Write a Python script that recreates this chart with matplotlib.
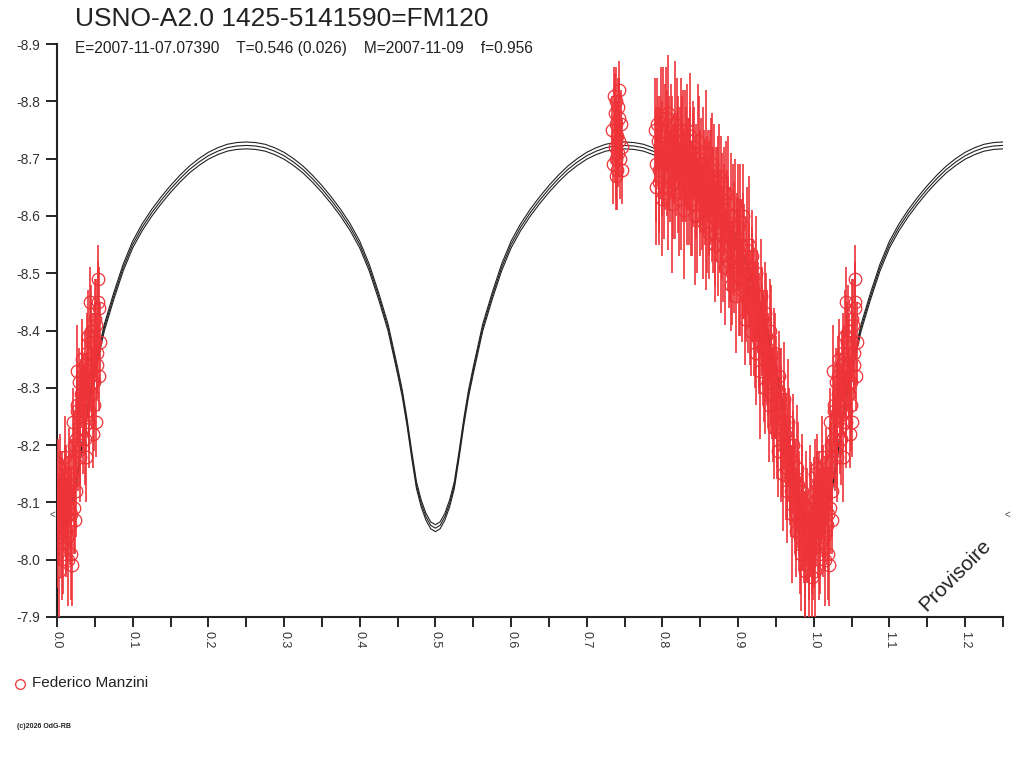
import matplotlib
matplotlib.use("Agg")
import matplotlib.pyplot as plt
import numpy as np

plt.rcParams['font.family'] = ['Liberation Sans', 'DejaVu Sans']

title = "USNO-A2.0 1425-5141590=FM120"
subtitle = "E=2007-11-07.07390    T=0.546 (0.026)    M=2007-11-09    f=0.956"
observer = "Federico Manzini"
footer = "(c)2026 OdG-RB"
watermark = "Provisoire"

xticks = [0.0, 0.1, 0.2, 0.3, 0.4, 0.5, 0.6, 0.7, 0.8, 0.9, 1.0, 1.1, 1.2]
yticks = [-8.9, -8.8, -8.7, -8.6, -8.5, -8.4, -8.3, -8.2, -8.1, -8.0, -7.9]

# model light curve over one period (phase, magnitude); repeated at phase + 1
model_phase = [0.00000, 0.00625, 0.01250, 0.01875, 0.02500, 0.03125, 0.03750, 0.04375, 0.05000,
               0.0625, 0.0750, 0.0875, 0.1000, 0.1125,
               0.1250, 0.1375, 0.1500, 0.1625, 0.1750, 0.1875, 0.2000, 0.2125, 0.2250, 0.2375,
               0.2500, 0.2625, 0.2750, 0.2875, 0.3000, 0.3125, 0.3250, 0.3375, 0.3500, 0.3625,
               0.3750, 0.3875, 0.4000, 0.4125, 0.4250, 0.4375,
               0.45000, 0.45625, 0.46250, 0.46875, 0.47500, 0.48125, 0.48750, 0.49375,
               0.50000, 0.50625, 0.51250, 0.51875, 0.52500, 0.53125, 0.53750, 0.54375, 0.55000,
               0.5625, 0.5750, 0.5875, 0.6000, 0.6125,
               0.6250, 0.6375, 0.6500, 0.6625, 0.6750, 0.6875, 0.7000, 0.7125, 0.7250, 0.7375,
               0.7500, 0.7625, 0.7750, 0.7875, 0.8000, 0.8125, 0.8250, 0.8375, 0.8500, 0.8625,
               0.8750, 0.8875, 0.9000, 0.9125, 0.9250, 0.9375,
               0.95000, 0.95625, 0.96250, 0.96875, 0.97500, 0.98125, 0.98750, 0.99375,
               1.00000]
model_mag = [-8.055, -8.060, -8.075, -8.098, -8.130, -8.183, -8.240, -8.290, -8.330,
             -8.405, -8.460, -8.510, -8.550, -8.580,
             -8.605, -8.627, -8.647, -8.665, -8.681, -8.694, -8.705, -8.713, -8.719, -8.722,
             -8.723, -8.722, -8.719, -8.713, -8.705, -8.694, -8.681, -8.665, -8.647, -8.627,
             -8.605, -8.580, -8.550, -8.510, -8.460, -8.405,
             -8.330, -8.290, -8.240, -8.183, -8.130, -8.098, -8.075, -8.060,
             -8.055, -8.060, -8.075, -8.098, -8.130, -8.183, -8.240, -8.290, -8.330,
             -8.405, -8.460, -8.510, -8.550, -8.580,
             -8.605, -8.627, -8.647, -8.665, -8.681, -8.694, -8.705, -8.713, -8.719, -8.722,
             -8.723, -8.722, -8.719, -8.713, -8.705, -8.694, -8.681, -8.665, -8.647, -8.627,
             -8.605, -8.580, -8.550, -8.510, -8.460, -8.405,
             -8.330, -8.290, -8.240, -8.183, -8.130, -8.098, -8.075, -8.060,
             -8.055]
model_offsets = [-0.006, 0.0, 0.006]

# observations, phase 0.00-0.06 (also shown at phase + 1)
a_phase = [0.000, 0.001, 0.002, 0.003, 0.004, 0.005, 0.006, 0.007, 0.008, 0.009,
           0.010, 0.011, 0.012, 0.013, 0.014, 0.015, 0.016, 0.017, 0.018, 0.019,
           0.020, 0.021, 0.022, 0.023, 0.024, 0.025, 0.026, 0.027, 0.028, 0.029,
           0.030, 0.031, 0.032, 0.033, 0.034, 0.035, 0.036, 0.037, 0.038, 0.039,
           0.040, 0.041, 0.042, 0.043, 0.044, 0.045, 0.046, 0.047, 0.048, 0.049,
           0.050, 0.051, 0.052, 0.053, 0.054, 0.055, 0.056, 0.057,
           0.0005, 0.0025, 0.0045, 0.0065, 0.0085, 0.0105, 0.0125, 0.0145, 0.0165, 0.0185,
           0.0205, 0.0225, 0.0245, 0.0265, 0.0285, 0.0305, 0.0325, 0.0345, 0.0365, 0.0385,
           0.0405, 0.0425, 0.0445, 0.0465, 0.0485, 0.0505, 0.0525, 0.0545]
a_mag = [-8.02, -8.15, -7.98, -8.08, -8.16, -8.05, -8.11, -8.13, -8.03, -8.10,
         -8.07, -8.18, -8.12, -8.04, -8.09, -8.00, -8.13, -8.06, -8.15, -8.01,
         -7.99, -8.24, -8.09, -8.17, -8.07, -8.21, -8.33, -8.26, -8.19, -8.31,
         -8.25, -8.20, -8.29, -8.35, -8.23, -8.30, -8.27, -8.34, -8.18, -8.36,
         -8.30, -8.39, -8.26, -8.45, -8.33, -8.40, -8.29, -8.36, -8.22, -8.31,
         -8.38, -8.24, -8.41, -8.36, -8.49, -8.44, -8.32, -8.38,
         -8.10, -8.06, -8.13, -8.01, -8.09, -8.14, -8.05, -8.11, -8.17, -8.08,
         -8.14, -8.20, -8.12, -8.27, -8.23, -8.18, -8.32, -8.26, -8.21, -8.29,
         -8.35, -8.24, -8.38, -8.31, -8.27, -8.42, -8.34, -8.45]
a_err = [0.07, 0.06, 0.08, 0.07, 0.06, 0.08, 0.07, 0.06, 0.09, 0.07,
         0.06, 0.07, 0.08, 0.06, 0.07, 0.08, 0.06, 0.07, 0.06, 0.08,
         0.07, 0.06, 0.08, 0.07, 0.06, 0.07, 0.08, 0.06, 0.07, 0.06,
         0.08, 0.07, 0.06, 0.07, 0.08, 0.06, 0.07, 0.06, 0.08, 0.07,
         0.06, 0.08, 0.07, 0.06, 0.07, 0.08, 0.06, 0.07, 0.06, 0.08,
         0.07, 0.06, 0.08, 0.07, 0.06, 0.07, 0.06, 0.07,
         0.08, 0.07, 0.06, 0.08, 0.07, 0.06, 0.08, 0.07, 0.06, 0.08,
         0.07, 0.06, 0.08, 0.07, 0.06, 0.08, 0.07, 0.06, 0.08, 0.07,
         0.06, 0.08, 0.07, 0.06, 0.08, 0.07, 0.06, 0.07]

# observations around phase 0.74
b_phase = [0.734, 0.735, 0.736, 0.737, 0.737, 0.738, 0.738, 0.739, 0.739, 0.740,
           0.740, 0.741, 0.741, 0.742, 0.742, 0.743, 0.744, 0.745, 0.746, 0.747]
b_mag = [-8.75, -8.69, -8.81, -8.72, -8.78, -8.67, -8.76, -8.70, -8.80, -8.74,
         -8.68, -8.79, -8.71, -8.77, -8.82, -8.73, -8.70, -8.76, -8.68, -8.72]
b_err = [0.06, 0.07, 0.05, 0.06, 0.07, 0.06, 0.05, 0.07, 0.06, 0.06,
         0.07, 0.05, 0.06, 0.07, 0.05, 0.06, 0.07, 0.06, 0.06, 0.05]

# observations, phase 0.79-1.00
c_phase = [0.790, 0.792, 0.794, 0.796, 0.798, 0.800, 0.802, 0.804, 0.806, 0.808,
           0.810, 0.812, 0.814, 0.816, 0.818, 0.820, 0.822, 0.824, 0.826, 0.828,
           0.830, 0.832, 0.834, 0.836, 0.838, 0.840, 0.842, 0.844, 0.846, 0.848,
           0.850, 0.852, 0.854, 0.856, 0.858, 0.860, 0.862, 0.864, 0.866, 0.868,
           0.870, 0.872, 0.874, 0.876, 0.878, 0.880, 0.882, 0.884, 0.886, 0.888,
           0.890, 0.892, 0.894, 0.896, 0.898, 0.900, 0.902, 0.904, 0.906, 0.908,
           0.910, 0.912, 0.914, 0.916, 0.918, 0.920, 0.922, 0.924, 0.926, 0.928,
           0.930, 0.932, 0.934, 0.936, 0.938, 0.940, 0.942, 0.944, 0.946, 0.948,
           0.950, 0.952, 0.954, 0.956, 0.958, 0.960, 0.962, 0.964, 0.966, 0.968,
           0.970, 0.972, 0.974, 0.976, 0.978, 0.980, 0.982, 0.984, 0.986, 0.988,
           0.990, 0.992, 0.994, 0.996, 0.998, 1.000,
           0.791, 0.793, 0.795, 0.797, 0.799, 0.801, 0.803, 0.805, 0.807, 0.809,
           0.811, 0.813, 0.815, 0.817, 0.819, 0.821, 0.823, 0.825, 0.827, 0.829,
           0.831, 0.833, 0.835, 0.837, 0.839, 0.841, 0.843, 0.845, 0.847, 0.849,
           0.851, 0.853, 0.855, 0.857, 0.859, 0.861, 0.863, 0.865, 0.867, 0.869,
           0.871, 0.873, 0.875, 0.877, 0.879, 0.881, 0.883, 0.885, 0.887, 0.889,
           0.891, 0.893, 0.895, 0.897, 0.899, 0.901, 0.903, 0.905, 0.907, 0.909,
           0.911, 0.913, 0.915, 0.917, 0.919, 0.921, 0.923, 0.925, 0.927, 0.929,
           0.931, 0.933, 0.935, 0.937, 0.939, 0.941, 0.943, 0.945, 0.947, 0.949,
           0.951, 0.953, 0.955, 0.957, 0.959, 0.961, 0.963, 0.965, 0.967, 0.969,
           0.971, 0.973, 0.975, 0.977, 0.979, 0.981, 0.983, 0.985, 0.987, 0.989,
           0.991, 0.993, 0.995, 0.997, 0.999]
c_mag = [-8.75, -8.65, -8.73, -8.68, -8.77, -8.70, -8.64, -8.74, -8.71, -8.78,
         -8.67, -8.72, -8.66, -8.76, -8.69, -8.73, -8.63, -8.75, -8.70, -8.67,
         -8.72, -8.64, -8.69, -8.74, -8.62, -8.68, -8.71, -8.65, -8.60, -8.70,
         -8.66, -8.62, -8.69, -8.64, -8.58, -8.67, -8.63, -8.68, -8.60, -8.65,
         -8.57, -8.62, -8.66, -8.59, -8.63, -8.55, -8.61, -8.64, -8.57, -8.52,
         -8.60, -8.50, -8.56, -8.62, -8.54, -8.58, -8.49, -8.55, -8.60, -8.52,
         -8.46, -8.54, -8.50, -8.44, -8.53, -8.47, -8.41, -8.50, -8.44, -8.38,
         -8.46, -8.40, -8.35, -8.43, -8.37, -8.31, -8.40, -8.33, -8.27, -8.36,
         -8.30, -8.24, -8.32, -8.26, -8.20, -8.28, -8.22, -8.16, -8.24, -8.18,
         -8.12, -8.20, -8.14, -8.08, -8.16, -8.10, -8.04, -8.12, -8.07, -8.01,
         -8.09, -8.04, -7.99, -8.07, -8.02, -8.05,
         -8.69, -8.76, -8.66, -8.72, -8.63, -8.74, -8.69, -8.77, -8.65, -8.71,
         -8.74, -8.62, -8.70, -8.66, -8.75, -8.68, -8.71, -8.64, -8.73, -8.61,
         -8.69, -8.75, -8.66, -8.70, -8.63, -8.72, -8.60, -8.67, -8.73, -8.64,
         -8.69, -8.59, -8.66, -8.71, -8.62, -8.57, -8.65, -8.69, -8.61, -8.55,
         -8.64, -8.58, -8.67, -8.53, -8.60, -8.64, -8.51, -8.59, -8.62, -8.55,
         -8.48, -8.58, -8.52, -8.46, -8.56, -8.51, -8.59, -8.47, -8.53, -8.42,
         -8.50, -8.45, -8.55, -8.40, -8.48, -8.43, -8.36, -8.46, -8.40, -8.33,
         -8.42, -8.37, -8.30, -8.39, -8.34, -8.27, -8.36, -8.29, -8.23, -8.32,
         -8.26, -8.19, -8.28, -8.22, -8.15, -8.24, -8.18, -8.12, -8.20, -8.14,
         -8.08, -8.17, -8.11, -8.05, -8.13, -8.07, -8.01, -8.10, -8.04, -7.98,
         -8.06, -8.01, -8.09, -7.97, -8.03]
c_err = [0.09, 0.10, 0.08, 0.11, 0.09, 0.10, 0.08, 0.09, 0.11, 0.10,
         0.08, 0.09, 0.10, 0.11, 0.09, 0.08, 0.10, 0.09, 0.11, 0.08,
         0.10, 0.09, 0.08, 0.11, 0.09, 0.10, 0.08, 0.09, 0.10, 0.11,
         0.09, 0.08, 0.10, 0.09, 0.11, 0.08, 0.10, 0.09, 0.08, 0.11,
         0.09, 0.10, 0.08, 0.09, 0.11, 0.10, 0.08, 0.09, 0.10, 0.08,
         0.11, 0.09, 0.10, 0.08, 0.09, 0.11, 0.10, 0.08, 0.09, 0.10,
         0.08, 0.11, 0.09, 0.10, 0.08, 0.09, 0.11, 0.10, 0.08, 0.09,
         0.10, 0.08, 0.11, 0.09, 0.10, 0.08, 0.09, 0.11, 0.10, 0.08,
         0.09, 0.10, 0.08, 0.11, 0.09, 0.10, 0.08, 0.09, 0.11, 0.10,
         0.08, 0.09, 0.10, 0.08, 0.11, 0.09, 0.10, 0.08, 0.09, 0.11,
         0.10, 0.08, 0.09, 0.10, 0.08, 0.09,
         0.10, 0.08, 0.11, 0.09, 0.10, 0.12, 0.08, 0.09, 0.11, 0.10,
         0.09, 0.12, 0.08, 0.10, 0.09, 0.11, 0.08, 0.10, 0.09, 0.12,
         0.10, 0.08, 0.11, 0.09, 0.10, 0.08, 0.12, 0.09, 0.10, 0.11,
         0.08, 0.10, 0.09, 0.11, 0.12, 0.08, 0.10, 0.09, 0.11, 0.10,
         0.08, 0.12, 0.09, 0.10, 0.11, 0.08, 0.10, 0.09, 0.12, 0.10,
         0.08, 0.11, 0.09, 0.10, 0.08, 0.12, 0.10, 0.09, 0.11, 0.08,
         0.10, 0.09, 0.12, 0.08, 0.10, 0.11, 0.09, 0.08, 0.10, 0.12,
         0.09, 0.10, 0.08, 0.11, 0.09, 0.10, 0.12, 0.08, 0.09, 0.11,
         0.10, 0.08, 0.09, 0.12, 0.10, 0.08, 0.11, 0.09, 0.10, 0.08,
         0.12, 0.09, 0.10, 0.08, 0.11, 0.09, 0.10, 0.12, 0.08, 0.09,
         0.10, 0.08, 0.11, 0.09, 0.10]

red = '#EE3338'
dark = '#222222'

fig = plt.figure(figsize=(10.24, 7.68), dpi=100)
ax = fig.add_axes([57/1024, 1 - 617/768, (1003 - 57)/1024, (617 - 44)/768])

mp = np.array(model_phase)
mm = np.array(model_mag)
for cycle in [0.0, 1.0]:
    for off in model_offsets:
        ax.plot(mp + cycle, mm + off, color=dark, lw=0.8, zorder=2)

obs_phase = np.concatenate([a_phase, b_phase, c_phase, np.array(a_phase) + 1.0])
obs_mag = np.concatenate([a_mag, b_mag, c_mag, a_mag])
obs_err = np.concatenate([a_err, b_err, c_err, a_err])

ax.errorbar(obs_phase, obs_mag, yerr=obs_err, fmt='none', ecolor=red,
            elinewidth=1.2, capsize=0, zorder=3)
ax.plot(obs_phase, obs_mag, linestyle='none', marker='o', markersize=9,
        markerfacecolor='none', markeredgecolor=red, markeredgewidth=0.9, zorder=4)

ax.set_xlim(0.0, 1.248)
ax.set_ylim(-7.9, -8.9)
ax.set_xticks(xticks)
ax.set_xticklabels([f"{t:.1f}" for t in xticks], rotation=270, fontsize=9, color='#333333')
ax.set_xticks([0.05, 0.15, 0.25, 0.35, 0.45, 0.55, 0.65, 0.75, 0.85, 0.95, 1.05, 1.15, 1.25], minor=True)
ax.set_yticks(yticks)
ax.set_yticklabels([f"{t:.1f}" for t in yticks], fontsize=10, color='#333333')
ax.tick_params(axis='y', direction='out', length=8, width=1.2, pad=4)
ax.tick_params(axis='x', which='both', direction='out', length=7, width=1.2, pad=3)
for s in ['top', 'right']:
    ax.spines[s].set_visible(False)
for s in ['left', 'bottom']:
    ax.spines[s].set_linewidth(1.5)
    ax.spines[s].set_color('#222222')

fig.text(75/1024, 1 - 19/768, title, fontsize=19, va='center', ha='left', color='#222222')
fig.text(75/1024, 1 - 48/768, subtitle, fontsize=11.2, va='center', ha='left', color='#222222')

fig.text(955/1024, 1 - 575/768, watermark, fontsize=15, rotation=45,
         ha='center', va='center', color='#222222')
fig.text(1007/1024, 1 - 515/768, '<', fontsize=7, ha='center', va='center', color='#444444')
fig.text(52/1024, 1 - 515/768, '<', fontsize=7, ha='center', va='center', color='#444444')

fig.lines.append(plt.Line2D([20/1024], [1 - 684/768], transform=fig.transFigure,
                            marker='o', markersize=7, markerfacecolor='none',
                            markeredgecolor=red, markeredgewidth=0.9, linestyle='none'))
fig.text(32/1024, 1 - 683/768, observer, fontsize=11, va='center', ha='left', color='#222222')
fig.text(17/1024, 1 - 726/768, footer, fontsize=5, va='center', ha='left',
         color='#222222', fontweight='bold')

fig.savefig('out.png', dpi=100)
